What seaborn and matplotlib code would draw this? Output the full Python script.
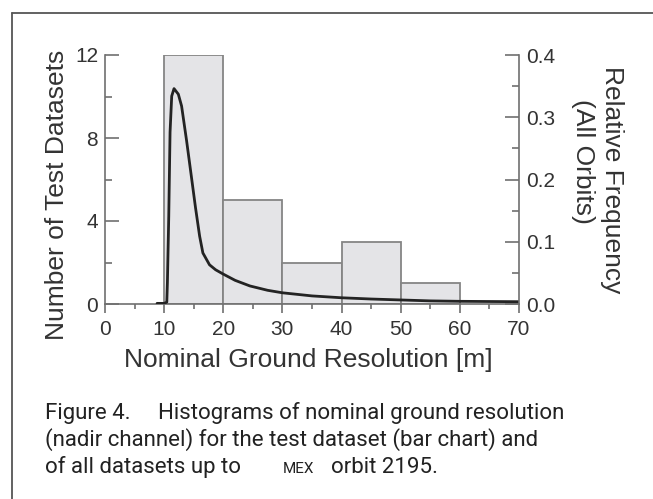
import numpy as np
import pandas as pd
import seaborn as sns
import matplotlib
matplotlib.use("Agg")
import matplotlib.pyplot as plt
from matplotlib.lines import Line2D
from matplotlib.ticker import MultipleLocator

# ---- data ----
bin_edges = [10, 20, 30, 40, 50, 60]
bin_counts = [12, 5, 2, 3, 1]

curve_res = [8.8, 10.0, 10.45, 10.55, 10.78, 11.0, 11.28, 11.67, 12.4, 12.95, 13.8,
             14.6, 15.3, 16.0, 16.55, 17.67, 18.7, 20.0, 22.0, 24.5, 27.5, 30.0,
             35.0, 40.0, 45.0, 50.0, 55.0, 60.0, 65.0, 70.0]
curve_freq = [0.001, 0.001, 0.003, 0.034, 0.141, 0.276, 0.334, 0.346, 0.337, 0.318, 0.262,
              0.205, 0.155, 0.109, 0.082, 0.063, 0.055, 0.048, 0.038, 0.029, 0.022, 0.018,
              0.013, 0.010, 0.008, 0.0065, 0.005, 0.0043, 0.004, 0.0037]

x_ticks = [0, 10, 20, 30, 40, 50, 60, 70]
left_ticks = [0, 4, 8, 12]
right_ticks = [0.0, 0.1, 0.2, 0.3, 0.4]
right_tick_labels = ["0.0", "0.1", "0.2", "0.3", "0.4"]

sns.set_style("ticks")
plt.rcParams["font.family"] = ["Liberation Sans", "DejaVu Sans"]

W, H = 653, 499
fig = plt.figure(figsize=(W / 100, H / 100), dpi=100)
ax = fig.add_axes([105 / W, 1 - 304 / H, (519 - 105) / W, (304 - 55) / H])
ax2 = ax.twinx()

spine_c = "#707070"
text_c = "#333333"

bars = pd.DataFrame({"res": [e + 5 for e in bin_edges[:-1]], "n": bin_counts})
sns.histplot(data=bars, x="res", weights="n", bins=bin_edges, ax=ax,
             color="#e4e4e7", edgecolor="#858585", linewidth=1.3, alpha=1.0)

curve = pd.DataFrame({"res": curve_res, "freq": curve_freq})
sns.lineplot(data=curve, x="res", y="freq", ax=ax2, color="#232323", linewidth=2.0)

ax.set_xlim(0, 70)
ax.set_ylim(0, 12)
ax2.set_ylim(0, 0.4)

ax.set_xticks(x_ticks)
ax.set_xticklabels([str(v) for v in x_ticks])
ax.xaxis.set_minor_locator(MultipleLocator(5))
ax.set_yticks(left_ticks)
ax.set_yticklabels([str(v) for v in left_ticks])
ax.yaxis.set_minor_locator(MultipleLocator(2))
ax2.set_yticks(right_ticks)
ax2.set_yticklabels(right_tick_labels)
ax2.yaxis.set_minor_locator(MultipleLocator(0.05))

for a in (ax, ax2):
    a.spines["top"].set_visible(False)
    for s in a.spines.values():
        s.set_color(spine_c)
        s.set_linewidth(1.2)
ax.spines["right"].set_visible(False)
ax2.spines["left"].set_visible(False)
ax2.spines["bottom"].set_visible(False)

ax.tick_params(axis="x", which="major", direction="out", length=6.5, width=1.2,
               color=spine_c, labelsize=15, labelcolor=text_c, pad=5)
ax.tick_params(axis="x", which="minor", direction="out", length=3.5, width=1.2, color=spine_c)
ax.tick_params(axis="y", which="major", direction="in", length=10, width=1.2,
               color=spine_c, labelsize=15, labelcolor=text_c, pad=5)
ax.tick_params(axis="y", which="minor", direction="in", length=5, width=1.2, color=spine_c)
ax2.tick_params(axis="y", which="major", direction="in", length=10, width=1.2,
                color=spine_c, labelsize=15, labelcolor=text_c, pad=5)
ax2.tick_params(axis="y", which="minor", direction="in", length=5, width=1.2, color=spine_c)

ax.set_xlabel("Nominal Ground Resolution [m]", fontsize=19, color=text_c)
ax.xaxis.label.set(va="center", ha="center")
ax.xaxis.set_label_coords((308.5 - 105) / 414, (304 - 360) / 249)

ax.set_ylabel("Number of Test Datasets", fontsize=19, color=text_c)
ax.yaxis.label.set(va="center", ha="center", rotation_mode="default")
ax.yaxis.set_label_coords((57 - 105) / 414, (304 - 195) / 249)

ax2.set_ylabel("Relative Frequency", fontsize=19, color=text_c, rotation=270)
ax2.yaxis.label.set(va="center", ha="center", rotation_mode="default")
ax2.yaxis.set_label_coords((612 - 105) / 414, (304 - 180) / 249)
ax2.text((583 - 105) / 414, (304 - 161) / 249, "(All Orbits)", transform=ax.transAxes,
         rotation=270, fontsize=19, color=text_c, ha="center", va="center")

# figure frame
fc = "#555555"
fig.add_artist(Line2D([12.5 / W, 12.5 / W], [0, 1 - 12.5 / H], transform=fig.transFigure,
                      color=fc, linewidth=1.3))
fig.add_artist(Line2D([12.5 / W, 1], [1 - 12.5 / H, 1 - 12.5 / H], transform=fig.transFigure,
                      color=fc, linewidth=1.3))

# caption
cap_font = ["Roboto", "DejaVu Sans"]
cap_c = "#222222"
cs = 16
def cap(x, ybase, s, size=cs):
    fig.text(x / W, 1 - ybase / H, s, fontsize=size, color=cap_c, family=cap_font,
             ha="left", va="baseline")

cap(45, 419, "Figure 4.")
cap(158, 419, "Histograms of nominal ground resolution")
cap(45, 446, "(nadir channel) for the test dataset (bar chart) and")
cap(45, 473, "of all datasets up to")
cap(283, 473, "MEX", size=11)
cap(331, 473, "orbit 2195.")

fig.savefig("out.png", dpi=100)
